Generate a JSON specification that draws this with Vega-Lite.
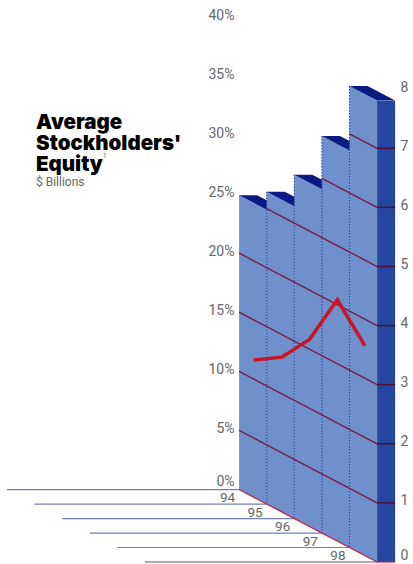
{
  "$schema": "https://vega.github.io/schema/vega-lite/v6.json",
  "width": 413,
  "height": 564,
  "padding": 0,
  "autosize": {"type": "none"},
  "background": "#ffffff",
  "view": {"stroke": null},
  "config": {"font": "Roboto"},
  "title": {
    "text": ["Average", "Stockholders'", "Equity"],
    "subtitle": "$ Billions",
    "anchor": "start",
    "frame": "group",
    "baseline": "top",
    "align": "left",
    "dx": 36,
    "dy": 188,
    "offset": 0,
    "font": "Inter",
    "fontSize": 20.5,
    "fontWeight": 900,
    "lineHeight": 21,
    "color": "#000000",
    "subtitleFont": "Roboto",
    "subtitleFontSize": 12,
    "subtitleColor": "#666666",
    "subtitlePadding": 1.5
  },
  "resolve": {"scale": {"y": "independent"}},
  "layer": [
    {
      "layer": [
        {
          "data": {"values": [
            {"start": 85.59, "corner": 94, "level": 0},
            {"start": 86.59, "corner": 95, "level": -0.2453},
            {"start": 87.59, "corner": 96, "level": -0.4906},
            {"start": 88.59, "corner": 97, "level": -0.7359},
            {"start": 89.59, "corner": 98, "level": -0.9812}
          ]},
          "mark": {"type": "rule", "color": "#6f80bd", "strokeWidth": 1.2},
          "encoding": {
            "x": {"field": "start", "type": "quantitative", "axis": null, "scale": {"domain": [85.34, 100.3], "nice": false, "zero": false}},
            "x2": {"field": "corner"},
            "y": {"field": "level", "type": "quantitative", "scale": {"domain": [-1.26, 8.283], "nice": false, "zero": false},
              "axis": {
                "orient": "left", "offset": -234, "values": [0, 1, 2, 3, 4, 5, 6, 7, 8],
                "labelExpr": "datum.value * 5 + '%'", "title": null, "domain": false, "ticks": false, "grid": false,
                "labelPadding": 0,
                "labelOffset": {"condition": {"test": "datum.value === 0", "value": -8.5}, "value": -1.5},
                "labelFontSize": 14, "labelColor": "#666666", "labelFont": "Roboto"
              }
            }
          }
        },
        {
          "data": {"values": [{"start": 90.59, "corner": 99, "level": -1.2265}]},
          "mark": {"type": "rule", "color": "#8c92a4", "strokeWidth": 1.6},
          "encoding": {
            "x": {"field": "start", "type": "quantitative"},
            "x2": {"field": "corner"},
            "y": {"field": "level", "type": "quantitative"}
          }
        },
        {
          "data": {"values": [
            {"year": "94", "pos": 94, "top": 4.98, "base": 0},
            {"year": "94", "pos": 95, "top": 4.735, "base": -0.2453},
            {"year": "95", "pos": 95, "top": 5.039, "base": -0.2453},
            {"year": "95", "pos": 96, "top": 4.794, "base": -0.4906},
            {"year": "96", "pos": 96, "top": 5.327, "base": -0.4906},
            {"year": "96", "pos": 97, "top": 5.082, "base": -0.7359},
            {"year": "97", "pos": 97, "top": 5.981, "base": -0.7359},
            {"year": "97", "pos": 98, "top": 5.736, "base": -0.9812},
            {"year": "98", "pos": 98, "top": 6.827, "base": -0.9812},
            {"year": "98", "pos": 99, "top": 6.582, "base": -1.2265}
          ]},
          "mark": {"type": "area", "color": "#6f90ca", "opacity": 1},
          "encoding": {
            "x": {"field": "pos", "type": "quantitative"},
            "y": {"field": "top", "type": "quantitative"},
            "y2": {"field": "base"},
            "detail": {"field": "year"}
          }
        },
        {
          "data": {"values": [
            {"pos": 95, "top": 5.039, "base": -0.2453},
            {"pos": 96, "top": 5.327, "base": -0.4906},
            {"pos": 97, "top": 5.981, "base": -0.7359},
            {"pos": 98, "top": 6.827, "base": -0.9812}
          ]},
          "mark": {"type": "rule", "color": "#1f3c9e", "strokeWidth": 1, "strokeDash": [1.5, 1.5]},
          "encoding": {
            "x": {"field": "pos", "type": "quantitative"},
            "y": {"field": "top", "type": "quantitative"},
            "y2": {"field": "base"}
          }
        },
        {
          "data": {"values": [
            {"billions": 1, "pos": 94, "level": 1},
            {"billions": 1, "pos": 99, "level": -0.2265},
            {"billions": 2, "pos": 94, "level": 2},
            {"billions": 2, "pos": 99, "level": 0.7735},
            {"billions": 3, "pos": 94, "level": 3},
            {"billions": 3, "pos": 99, "level": 1.7735},
            {"billions": 4, "pos": 94, "level": 4},
            {"billions": 4, "pos": 99, "level": 2.7735},
            {"billions": 5, "pos": 95, "level": 4.7547},
            {"billions": 5, "pos": 99, "level": 3.7735},
            {"billions": 6, "pos": 97, "level": 5.2641},
            {"billions": 6, "pos": 99, "level": 4.7735},
            {"billions": 7, "pos": 98, "level": 6.0188},
            {"billions": 7, "pos": 99, "level": 5.7735}
          ]},
          "mark": {"type": "line", "color": "#741c46", "strokeWidth": 1.4},
          "encoding": {
            "x": {"field": "pos", "type": "quantitative"},
            "y": {"field": "level", "type": "quantitative"},
            "detail": {"field": "billions"}
          }
        },
        {
          "data": {"values": [
            {"year": "94", "pos": 94, "back": 4.98, "front": 4.98},
            {"year": "94", "pos": 94.652, "back": 4.98, "front": 4.82},
            {"year": "94", "pos": 95, "back": 4.895, "front": 4.735},
            {"year": "95", "pos": 95, "back": 5.039, "front": 5.039},
            {"year": "95", "pos": 95.652, "back": 5.039, "front": 4.879},
            {"year": "95", "pos": 96, "back": 4.954, "front": 4.794},
            {"year": "96", "pos": 96, "back": 5.327, "front": 5.327},
            {"year": "96", "pos": 96.652, "back": 5.327, "front": 5.167},
            {"year": "96", "pos": 97, "back": 5.242, "front": 5.082},
            {"year": "97", "pos": 97, "back": 5.981, "front": 5.981},
            {"year": "97", "pos": 97.652, "back": 5.981, "front": 5.821},
            {"year": "97", "pos": 98, "back": 5.896, "front": 5.736},
            {"year": "98", "pos": 98, "back": 6.827, "front": 6.827},
            {"year": "98", "pos": 98.652, "back": 6.827, "front": 6.667},
            {"year": "98", "pos": 99, "back": 6.742, "front": 6.582},
            {"year": "98", "pos": 99.652, "back": 6.582, "front": 6.582}
          ]},
          "mark": {"type": "area", "color": "#0b1a82", "opacity": 1},
          "encoding": {
            "x": {"field": "pos", "type": "quantitative"},
            "y": {"field": "back", "type": "quantitative"},
            "y2": {"field": "front"},
            "detail": {"field": "year"}
          }
        },
        {
          "data": {"values": [
            {"pos": 94, "level": 0},
            {"pos": 99, "level": -1.2265}
          ]},
          "mark": {"type": "line", "color": "#c4203c", "strokeWidth": 1.3},
          "encoding": {
            "x": {"field": "pos", "type": "quantitative"},
            "y": {"field": "level", "type": "quantitative"}
          }
        },
        {
          "data": {"values": [
            {"pos": 94.52, "level": 2.19},
            {"pos": 95.55, "level": 2.24},
            {"pos": 96.55, "level": 2.54},
            {"pos": 97.56, "level": 3.21},
            {"pos": 98.56, "level": 2.43}
          ]},
          "mark": {"type": "line", "color": "#cc1322", "strokeWidth": 3.5, "strokeJoin": "miter"},
          "encoding": {
            "x": {"field": "pos", "type": "quantitative"},
            "y": {"field": "level", "type": "quantitative"}
          }
        },
        {
          "data": {"values": [
            {"label": "94", "pos": 94, "level": 0},
            {"label": "95", "pos": 95, "level": -0.2453},
            {"label": "96", "pos": 96, "level": -0.4906},
            {"label": "97", "pos": 97, "level": -0.7359},
            {"label": "98", "pos": 98, "level": -0.9812}
          ]},
          "mark": {"type": "text", "align": "right", "baseline": "middle", "dx": -4, "dy": 8.5, "fontSize": 13.5, "color": "#666666"},
          "encoding": {
            "x": {"field": "pos", "type": "quantitative"},
            "y": {"field": "level", "type": "quantitative"},
            "text": {"field": "label"}
          }
        },
        {
          "data": {"values": [{"label": "1", "pos": 89.05, "level": 5.65}]},
          "mark": {"type": "text", "align": "left", "baseline": "middle", "fontSize": 8, "color": "#777777"},
          "encoding": {
            "x": {"field": "pos", "type": "quantitative"},
            "y": {"field": "level", "type": "quantitative"},
            "text": {"field": "label"}
          }
        }
      ]
    },
    {
      "layer": [
        {
          "data": {"values": [{"from": 99, "to": 99.652, "equity": 7.805, "zero": 0}]},
          "mark": {"type": "rect", "color": "#25459f"},
          "encoding": {
            "x": {"field": "from", "type": "quantitative", "axis": null},
            "x2": {"field": "to"},
            "y": {"field": "equity", "type": "quantitative", "scale": {"domain": [-0.034, 9.509], "nice": false, "zero": false},
              "axis": {
                "orient": "right", "offset": -13, "values": [0, 1, 2, 3, 4, 5, 6, 7, 8],
                "title": null, "domain": false, "ticks": false, "grid": false, "format": "d",
                "labelPadding": 0,
                "labelOffset": {"condition": {"test": "datum.value === 0", "value": -6}, "value": -2},
                "labelFontSize": 14, "labelColor": "#666666", "labelFont": "Roboto"
              }
            },
            "y2": {"field": "zero"}
          }
        },
        {
          "data": {"values": [
            {"from": 99, "to": 99.652, "equity": 1},
            {"from": 99, "to": 99.652, "equity": 2},
            {"from": 99, "to": 99.652, "equity": 3},
            {"from": 99, "to": 99.652, "equity": 4},
            {"from": 99, "to": 99.652, "equity": 5},
            {"from": 99, "to": 99.652, "equity": 6},
            {"from": 99, "to": 99.652, "equity": 7}
          ]},
          "mark": {"type": "rule", "color": "#4a1038", "strokeWidth": 1.5},
          "encoding": {
            "x": {"field": "from", "type": "quantitative"},
            "x2": {"field": "to"},
            "y": {"field": "equity", "type": "quantitative"}
          }
        },
        {
          "data": {"values": [{"from": 99, "to": 99.652, "equity": 0}]},
          "mark": {"type": "rule", "color": "#c4203c", "strokeWidth": 1.3},
          "encoding": {
            "x": {"field": "from", "type": "quantitative"},
            "x2": {"field": "to"},
            "y": {"field": "equity", "type": "quantitative"}
          }
        }
      ]
    }
  ]
}
